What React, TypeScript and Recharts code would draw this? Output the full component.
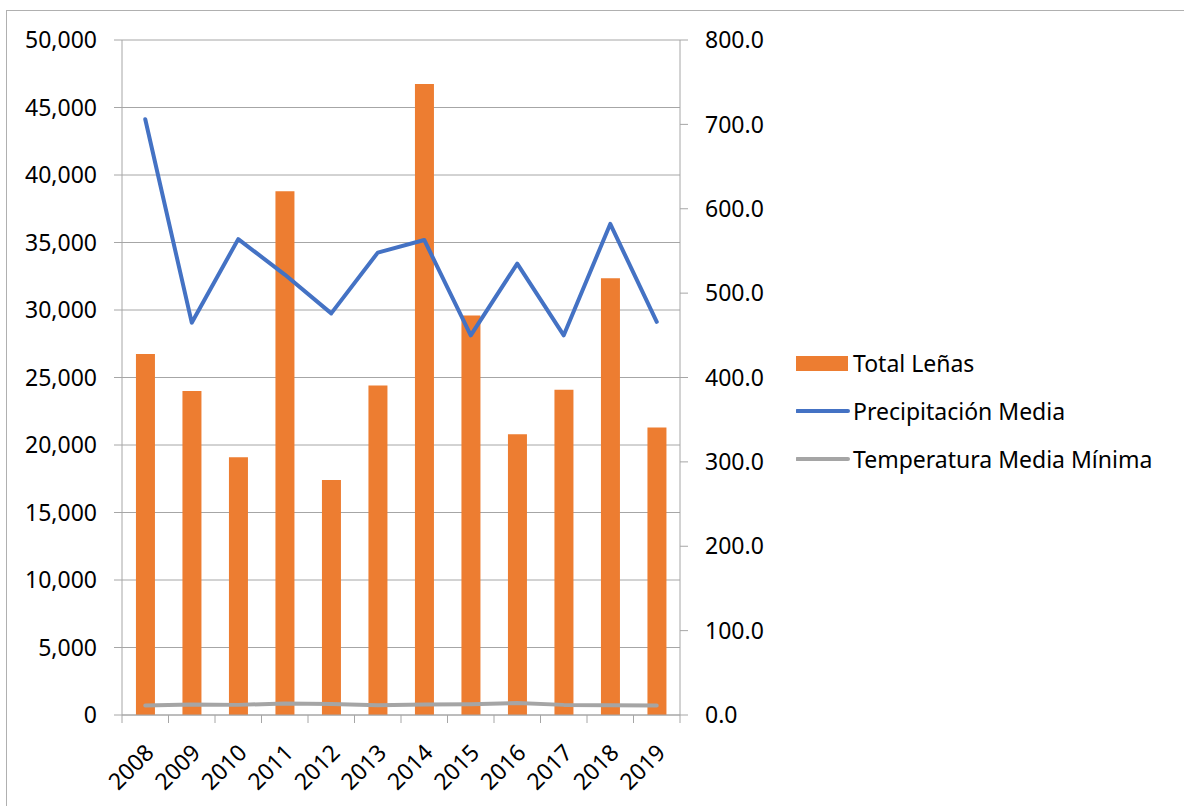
import { ComposedChart, Bar, Line, XAxis, YAxis, CartesianGrid } from 'recharts';

const years = ['2008', '2009', '2010', '2011', '2012', '2013', '2014', '2015', '2016', '2017', '2018', '2019'];
const totalLenas = [26750, 24000, 19100, 38800, 17400, 24400, 46750, 29600, 20800, 24100, 32350, 21300];
const precipitacion = [706, 465, 564, 522, 476, 548, 563, 450, 535, 450, 582, 466];
const tempMinima = [11.3, 12.4, 12.0, 13.6, 12.9, 11.7, 12.4, 12.8, 14.1, 12.0, 11.7, 11.3];

const leftTicks = [0, 5000, 10000, 15000, 20000, 25000, 30000, 35000, 40000, 45000, 50000];
const rightTicks = [0, 100, 200, 300, 400, 500, 600, 700, 800];

const ORANGE = '#ED7D31';
const BLUE = '#4472C4';
const GREY = '#A5A5A5';
const AXIS = '#a6a6a6';
const FONT = '"Noto Sans", sans-serif';

// plot area geometry (used for margins and tick placement)
const CHART_W = 1184;
const CHART_H = 806;
const PLOT_LEFT = 122;
const PLOT_RIGHT = 680;
const PLOT_TOP = 40;
const PLOT_BOTTOM = 715;
const HALF_BAND = (PLOT_RIGHT - PLOT_LEFT) / years.length / 2;

const data = years.map((year, i) => ({
  year,
  lenas: totalLenas[i],
  precip: precipitacion[i],
  temp: tempMinima[i],
}));

// Excel-style category tick: tick marks between categories, rotated label
function YearTick(props: any) {
  const { x, y, payload, index } = props;
  const last = index === years.length - 1;
  return (
    <g>
      <line x1={x - HALF_BAND} x2={x - HALF_BAND} y1={y} y2={y + 8} stroke={AXIS} strokeWidth={1} />
      {last && <line x1={x + HALF_BAND} x2={x + HALF_BAND} y1={y} y2={y + 8} stroke={AXIS} strokeWidth={1} />}
      <text
        x={x - 4}
        y={y + 25}
        textAnchor="end"
        dominantBaseline="hanging"
        fontSize={23}
        fill="#000"
        fontFamily={FONT}
        transform={`rotate(-45, ${x - 4}, ${y + 25})`}
      >
        {payload.value}
      </text>
    </g>
  );
}

function LegendBox() {
  const rows = [
    { label: 'Total Leñas', kind: 'bar', color: ORANGE, top: 347 },
    { label: 'Precipitación Media', kind: 'line', color: BLUE, top: 395 },
    { label: 'Temperatura Media Mínima', kind: 'line', color: GREY, top: 443 },
  ];
  return (
    <>
      {rows.map((r) => (
        <div
          key={r.label}
          style={{ position: 'absolute', left: 796, top: r.top, height: 32, display: 'flex', alignItems: 'center', whiteSpace: 'nowrap' }}
        >
          <svg width={54} height={32} style={{ display: 'block' }}>
            {r.kind === 'bar' ? (
              <rect x={0} y={9} width={52} height={15} fill={r.color} />
            ) : (
              <line x1={1} x2={52} y1={16} y2={16} stroke={r.color} strokeWidth={4} strokeLinecap="round" />
            )}
          </svg>
          <span style={{ fontSize: 23, fontFamily: FONT, color: '#000', marginLeft: 3 }}>{r.label}</span>
        </div>
      ))}
    </>
  );
}

export default function App() {
  return (
    <div style={{ position: 'absolute', left: 0, top: 0, width: CHART_W, height: CHART_H, overflow: 'hidden', background: '#fff', fontFamily: FONT }}>
      <div style={{ position: 'absolute', left: 6, top: 10, width: 1200, height: 820, border: '1px solid #b0b0b0' }} />
      <div style={{ position: 'absolute', left: 0, top: 0 }}>
        <ComposedChart
          width={CHART_W}
          height={CHART_H}
          data={data}
          margin={{ top: PLOT_TOP, left: PLOT_LEFT - 110, right: CHART_W - PLOT_RIGHT - 100, bottom: 0 }}
          barCategoryGap="30%"
        >
          <CartesianGrid vertical={false} stroke={AXIS} strokeWidth={1} yAxisId="left" />
          <XAxis
            dataKey="year"
            height={CHART_H - PLOT_BOTTOM}
            axisLine={{ stroke: AXIS }}
            tickLine={false}
            tickSize={0}
            tickMargin={0}
            interval={0}
            tick={<YearTick />}
          />
          <YAxis
            yAxisId="left"
            width={110}
            domain={[0, 50000]}
            ticks={leftTicks}
            interval={0}
            axisLine={{ stroke: AXIS }}
            tickLine={{ stroke: AXIS }}
            tickSize={8}
            tickMargin={17}
            tick={{ fill: '#000', fontSize: 23, fontFamily: FONT }}
            tickFormatter={(v: number) => v.toLocaleString('en-US')}
          />
          <YAxis
            yAxisId="right"
            orientation="right"
            width={100}
            domain={[0, 800]}
            ticks={rightTicks}
            interval={0}
            axisLine={{ stroke: AXIS }}
            tickLine={{ stroke: AXIS }}
            tickSize={8}
            tickMargin={17}
            tick={{ fill: '#000', fontSize: 23, fontFamily: FONT, textAnchor: 'start' }}
            tickFormatter={(v: number) => v.toFixed(1)}
          />
          <Bar yAxisId="left" dataKey="lenas" name="Total Leñas" fill={ORANGE} isAnimationActive={false} />
          <Line
            yAxisId="right"
            type="linear"
            dataKey="precip"
            name="Precipitación Media"
            stroke={BLUE}
            strokeWidth={4}
            strokeLinecap="round"
            strokeLinejoin="round"
            dot={false}
            activeDot={false}
            isAnimationActive={false}
          />
          <Line
            yAxisId="right"
            type="linear"
            dataKey="temp"
            name="Temperatura Media Mínima"
            stroke={GREY}
            strokeWidth={4}
            strokeLinecap="round"
            strokeLinejoin="round"
            dot={false}
            activeDot={false}
            isAnimationActive={false}
          />
        </ComposedChart>
      </div>
      <LegendBox />
    </div>
  );
}
